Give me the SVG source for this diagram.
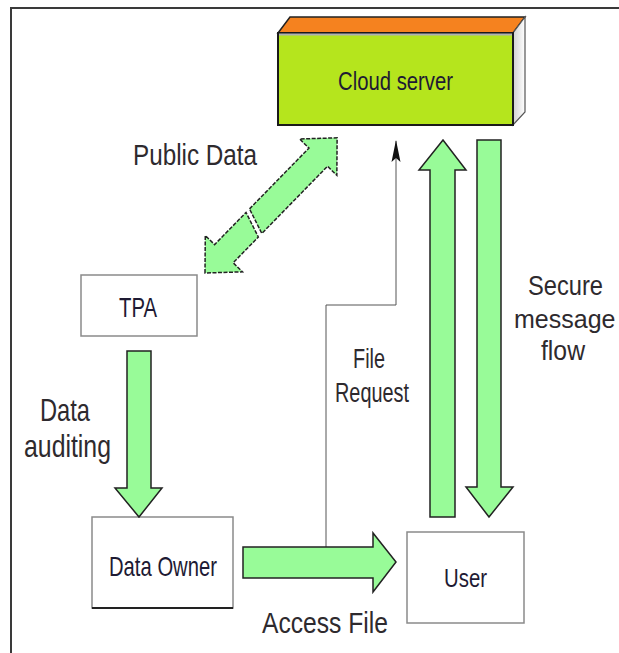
<svg xmlns="http://www.w3.org/2000/svg" width="619" height="653" viewBox="0 0 619 653">
<defs>
<style>
.arr{fill:#98fb98;stroke:#222;stroke-width:1.5;stroke-linejoin:miter}
.box{fill:#fff;stroke:#8a8a8a;stroke-width:1.5}
.lbl{font-family:"Liberation Sans",Arial,sans-serif;fill:#2e2a2e}
.nl{font-family:"Liberation Sans",Arial,sans-serif;fill:#1e1a33}
</style>
<linearGradient id="side" x1="0" y1="0" x2="1" y2="0">
<stop offset="0" stop-color="#d0d0d0"/><stop offset="1" stop-color="#ffffff"/>
</linearGradient>
<marker id="ah" markerWidth="24" markerHeight="10" refX="22" refY="5" orient="auto" markerUnits="userSpaceOnUse" viewBox="0 0 24 10">
<path d="M23,5 L1,0.5 L5,5 L1,9.5 Z" fill="#111"/>
</marker>
</defs>
<rect width="619" height="653" fill="#fff"/>
<g id="frame" fill="none" stroke="#3a3a3a" stroke-width="2">
<path d="M11,653 V8 H619"/>
</g>

<g id="cloud">
<polygon points="278,33 290,17 525,17 513,33" fill="#f5821f" stroke="#222" stroke-width="1.5"/>
<polygon points="513,33 525,17 525,112 513,125" fill="url(#side)" stroke="#555" stroke-width="1.2"/>
<rect x="278" y="33" width="235" height="92" fill="#b5e51d" stroke="#1a1a1a" stroke-width="2"/>
<line x1="279" y1="34.5" x2="512" y2="34.5" stroke="#b0b0b0" stroke-width="2"/>
<text class="nl" x="338" y="90" font-size="25" textLength="115" lengthAdjust="spacingAndGlyphs">Cloud server</text>
</g>

<g id="tpa">
<rect class="box" x="81" y="275" width="116" height="61"/>
<text class="nl" x="119" y="317" font-size="27" textLength="38" lengthAdjust="spacingAndGlyphs">TPA</text>
</g>

<g id="data-owner">
<rect class="box" x="92" y="517" width="141" height="91"/>
<line x1="92" y1="608" x2="233" y2="608" stroke="#222" stroke-width="2"/>
<text class="nl" x="109" y="576" font-size="28" textLength="108" lengthAdjust="spacingAndGlyphs">Data Owner</text>
</g>

<g id="user">
<rect class="box" x="407" y="532" width="117" height="91"/>
<text class="nl" x="444" y="587" font-size="26" textLength="43" lengthAdjust="spacingAndGlyphs">User</text>
</g>

<g id="connectors">
<g transform="translate(205,273) rotate(-45.65)">
<polygon class="arr" stroke-dasharray="4 1.5" points="0,0 27,-26 27,-13 72,-13 63,13 27,13 27,26"/>
<polygon class="arr" stroke-dasharray="4 1.5" points="77,-13 162,-13 162,-26 189,0 162,26 162,13 68,13"/>
</g>
<polygon class="arr" points="127,351 151,351 151,488 162,488 139,517 115,488 127,488"/>
<polygon class="arr" points="430,517 455,517 455,170 466,170 443,140 419,170 430,170"/>
<polygon class="arr" points="477,140 501,140 501,487 513,487 489,517 466,487 477,487"/>
<polyline points="326,547 326,305 396,305 396,141" fill="none" stroke="#555" stroke-width="1" marker-end="url(#ah)"/>
<polygon class="arr" points="243,547 373,547 373,533 396,562 373,592 373,578 243,578"/>
</g>

<g id="labels">
<text class="lbl" x="133" y="165" font-size="30" textLength="124" lengthAdjust="spacingAndGlyphs">Public Data</text>
<text class="lbl" x="40" y="421" font-size="32" textLength="50" lengthAdjust="spacingAndGlyphs">Data</text>
<text class="lbl" x="24" y="457" font-size="32" textLength="87" lengthAdjust="spacingAndGlyphs">auditing</text>
<text class="lbl" x="353" y="368" font-size="27" textLength="32" lengthAdjust="spacingAndGlyphs">File</text>
<text class="lbl" x="335" y="402" font-size="27" textLength="74" lengthAdjust="spacingAndGlyphs">Request</text>
<text class="lbl" x="528" y="295" font-size="28" textLength="75" lengthAdjust="spacingAndGlyphs">Secure</text>
<text class="lbl" x="514" y="328" font-size="25">message</text>
<text class="lbl" x="541" y="360" font-size="28" textLength="44" lengthAdjust="spacingAndGlyphs">flow</text>
<text class="lbl" x="262" y="633" font-size="30" textLength="126" lengthAdjust="spacingAndGlyphs">Access File</text>
</g>
</svg>
